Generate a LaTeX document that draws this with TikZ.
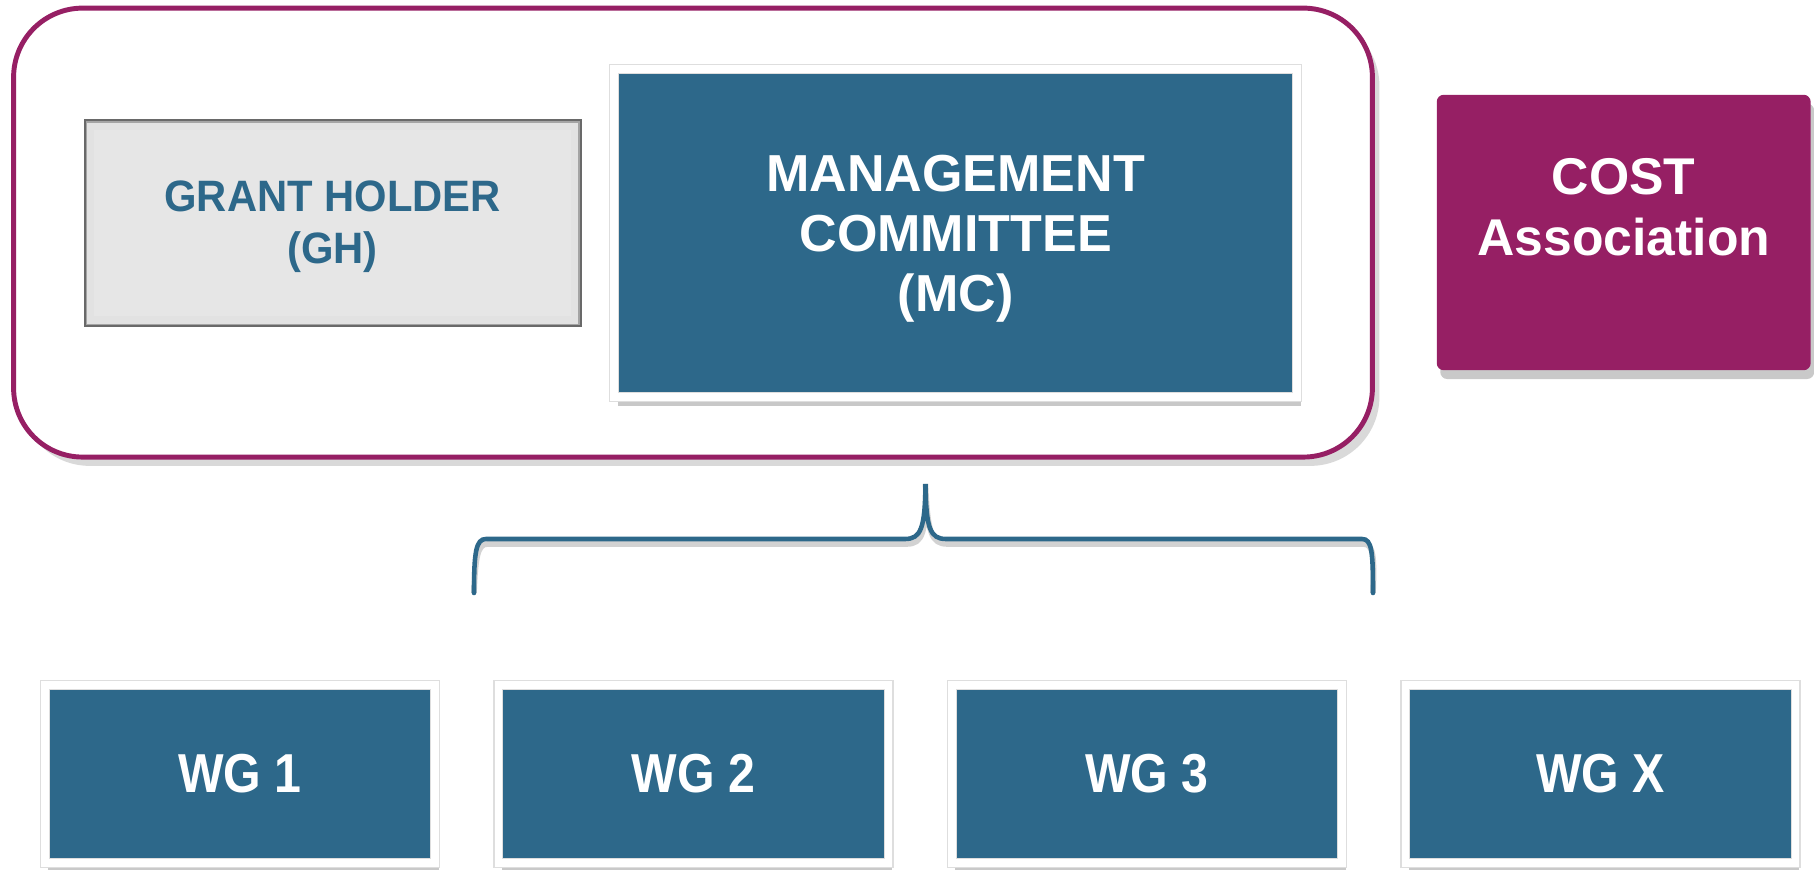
\documentclass[tikz,border=0pt]{standalone}
\usepackage{fontspec}
\setmainfont{Liberation Sans}
\usetikzlibrary{shadows}
\definecolor{costblue}{RGB}{45,104,138}
\definecolor{costpurple}{RGB}{150,31,100}
\definecolor{ghgray}{RGB}{230,230,230}
\definecolor{ghborder}{RGB}{105,105,105}
\begin{document}
\begin{tikzpicture}[x=0.01cm,y=-0.01cm,
  softshadow/.style={drop shadow={shadow xshift=1pt, shadow yshift=-2.5pt, opacity=0.3, fill=black!70}},
  tile/.style={fill=costblue, draw=black!13, double=white, double distance=2.2pt, line width=0.35pt,
    text=white, align=center, inner sep=0pt, softshadow},
  mcfont/.style={text=white, align=center, font=\bfseries\fontsize{14.8}{17.1}\selectfont},
  wgfont/.style={font=\bfseries\fontsize{15.6}{18}\selectfont\addfontfeatures{FakeStretch=0.88}},
  wgbox/.style={tile, wgfont, minimum width=3.90cm, minimum height=1.786cm},
  ghbox/.style={fill=ghgray, draw=ghborder, line width=1pt, inner sep=0pt,
    minimum width=4.94cm, minimum height=2.04cm},
  ghfont/.style={text=costblue, align=center, font=\bfseries\fontsize{12.5}{14.8}\selectfont\addfontfeatures{FakeStretch=0.95}},
  costbox/.style={fill=costpurple, draw=none, rounded corners=2pt, inner sep=0pt, softshadow,
    minimum width=3.737cm, minimum height=2.753cm},
  costtext/.style={text=white, align=center, font=\bfseries\fontsize{14.7}{17.4}\selectfont},
  groupbox/.style={draw=costpurple, line width=1.4pt, rounded corners=0.69cm, fill=white, inner sep=0pt,
    drop shadow={shadow xshift=2pt, shadow yshift=-2.5pt, opacity=0.25, fill=black!60},
    minimum width=13.58cm, minimum height=4.487cm},
  bracestyle/.style={draw=costblue, line width=1.3pt, line cap=round}
]
\useasboundingbox (0,0) rectangle (1814,870);

% group frame
\node[groupbox] (grp) at (693,232.6) {};

% grant holder
\node[ghbox] (gh) at (332.6,223.3) {};
\draw[black!12, line width=2.5pt, opacity=0.5] ([shift={(1.8pt,-1.8pt)}]gh.north west) rectangle ([shift={(-1.8pt,1.8pt)}]gh.south east);
\node[ghfont] (ghlbl) at (332.6,227) {GRANT HOLDER\\(GH)};

% management committee
\node[tile, minimum width=6.825cm, minimum height=3.28cm] (mc) at (955.6,233.1) {};
\node[mcfont] (mclbl) at (955.6,239) {MANAGEMENT\\COMMITTEE\\(MC)};

% COST association
\node[costbox] (cost) at (1623.7,232.5) {};
\node[costtext] (costlbl) at (1623.7,207) {COST\\Association};

% working groups
\node[wgbox] (wg1) at (240,774) {WG 1};
\node[wgbox] (wg2) at (693.5,774) {WG 2};
\node[wgbox] (wg3) at (1147,774) {WG 3};
\node[wgbox] (wgx) at (1600.5,774) {WG X};

% brace
\coordinate (bl) at (474,593);
\coordinate (br) at (1373,593);
\coordinate (tip) at (925.5,484);
\begin{scope}[shift={(1.5,5)}]
\draw[black!25, line width=1.6pt, opacity=0.7] (bl) .. controls (474,552) and (476,539) .. (486,539) -- (905,539)
  .. controls (921,539) and (925,528) .. (tip) .. controls (926,528) and (930,539) .. (946,539)
  -- (1362,539) .. controls (1372,539) and (1373,552) .. (br);
\end{scope}
\draw[bracestyle] (bl) .. controls (474,552) and (476,539) .. (486,539) -- (905,539)
  .. controls (921,539) and (925,528) .. (tip) .. controls (926,528) and (930,539) .. (946,539)
  -- (1362,539) .. controls (1372,539) and (1373,552) .. (br);
\end{tikzpicture}
\end{document}
